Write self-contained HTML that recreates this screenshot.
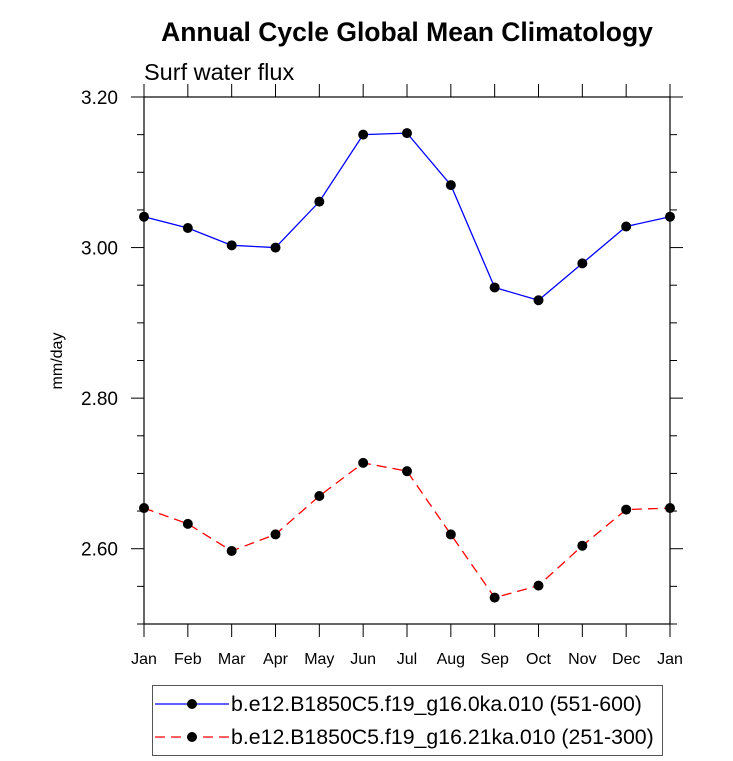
<!DOCTYPE html>
<html><head><meta charset="utf-8"><style>
body{margin:0;background:#fff;}
svg{display:block;font-family:"Liberation Sans",Arial,sans-serif;}
</style></head><body>
<svg id="chart" width="733" height="761">
<text x="407" y="41" text-anchor="middle" font-size="26.5" font-weight="bold">Annual Cycle Global Mean Climatology</text>
<text x="144" y="80" font-size="23.5">Surf water flux</text>
<text transform="translate(62,361) rotate(-90)" text-anchor="middle" font-size="16">mm/day</text>
<g id="axes"></g><g id="series"></g>
<rect x="152.5" y="685.5" width="510" height="70" fill="none" stroke="#555"/>
<g>
<line x1="155" y1="704" x2="229" y2="704" stroke="#0000ff" stroke-width="1.3"/>
<circle cx="192" cy="704" r="5" fill="#000"/>
<text x="231" y="711" font-size="21.3">b.e12.B1850C5.f19_g16.0ka.010 (551-600)</text></g>
<g>
<line x1="155" y1="737" x2="229" y2="737" stroke="#ff0000" stroke-width="1.3" stroke-dasharray="10,6"/>
<circle cx="192" cy="737" r="5" fill="#000"/>
<text x="231" y="744" font-size="21.3">b.e12.B1850C5.f19_g16.21ka.010 (251-300)</text></g>
</svg>
<script>
const months=["Jan","Feb","Mar","Apr","May","Jun","Jul","Aug","Sep","Oct","Nov","Dec","Jan"];
const blueVals=[3.041,3.026,3.003,3.000,3.061,3.150,3.152,3.083,2.947,2.930,2.979,3.028,3.041];
const redVals=[2.654,2.633,2.597,2.619,2.670,2.714,2.703,2.619,2.535,2.551,2.604,2.652,2.654];
const yTicks=[2.6,2.8,3.0,3.2];
const yTickLabels=["2.60","2.80","3.00","3.20"];
const NS="http://www.w3.org/2000/svg";
const L=144,R=670,T=97,B=624,ymin=2.5,ymax=3.2;
const xs=i=>L+(R-L)*i/12, ys=v=>B-(B-T)*(v-ymin)/(ymax-ymin);
function mk(tag,at,parent){const e=document.createElementNS(NS,tag);for(const k in at)e.setAttribute(k,at[k]);parent.appendChild(e);return e;}
const ax=document.getElementById('axes');
const fr=mk('rect',{x:L,y:T,width:R-L,height:B-T,fill:'none',stroke:'#000','stroke-width':1.2},ax);


months.forEach((m,i)=>{
 const x=xs(i);
 mk('line',{x1:x,y1:B,x2:x,y2:B+13,stroke:'#000'},ax);
 mk('line',{x1:x,y1:T,x2:x,y2:T-13,stroke:'#000'},ax);
 const t=mk('text',{x:x,y:B+40,'text-anchor':'middle','font-size':16},ax);
 t.textContent=m;
 
 
});
for(let v=2.5;v<=3.2001;v+=0.05){
 const y=ys(v);const major=yTicks.some(t=>Math.abs(t-v)<1e-6);const len=major?13:7;
 mk('line',{x1:L,y1:y,x2:L-len,y2:y,stroke:'#000'},ax);
 mk('line',{x1:R,y1:y,x2:R+len,y2:y,stroke:'#000'},ax);
}
yTicks.forEach((v,i)=>{
 const t=mk('text',{x:L-26,y:ys(v)+7,'text-anchor':'end','font-size':19},ax);
 t.textContent=yTickLabels[i];
 
 
});
const sg=document.getElementById('series');
function series(vals,color,dash,name){
 const g=mk('g',{},sg);
 
 
 const at={points:vals.map((v,i)=>xs(i)+','+ys(v)).join(' '),fill:'none',stroke:color,'stroke-width':1.3};
 if(dash)at['stroke-dasharray']=dash;
 mk('polyline',at,g);
 vals.forEach((v,i)=>{
  const c=mk('circle',{cx:xs(i),cy:ys(v),r:5,fill:'#000'},g);
  
  
 });
}
series(blueVals,'#0000ff',null,'series-0ka');
series(redVals,'#ff0000','10,6','series-21ka');
</script>
</body></html>
